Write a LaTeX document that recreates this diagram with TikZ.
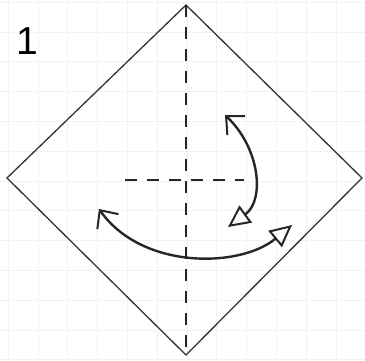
\documentclass[tikz,border=0pt]{standalone}
\usepackage{fontspec}
\setmainfont{Liberation Sans}
\usetikzlibrary{arrows.meta}
\tikzset{
    paper/.style = {draw=black!80, line width=1.3pt, line join=miter},
    fold/.style = {draw=black!85, line width=1.6pt, dash pattern=on 12pt off 10pt},
    turn/.style = {draw=black!85, line width=2.4pt, line cap=round,
                        {Straight Barb[length=14pt, width=26pt, line width=2pt]}-{Triangle[open, length=22pt, width=21pt, line width=2pt]}},
    gridline/.style = {draw=black!5, line width=0.6pt},
    stepnum/.style = {font=\fontsize{39}{39}\selectfont, inner sep=0pt}
}

\begin{document}
\begin{tikzpicture}[x=1pt, y=-1pt]
		\useasboundingbox (0,0) rectangle (365,360);
		\foreach \i in {0,...,12} {
			\draw [gridline] (8+29.8*\i,0) -- (8+29.8*\i,360);
			\draw [gridline] (0,2+29.8*\i) -- (365,2+29.8*\i);
		}
		\coordinate (top) at (186,5);
		\coordinate (left) at (7,178);
		\coordinate (bottom) at (186,355);
		\coordinate (right) at (362,178);
		\coordinate (midl) at (125,180);
		\coordinate (midr) at (244,180);
		\coordinate (upA) at (225,115);
		\coordinate (upB) at (228,227);
		\coordinate (lowA) at (99,209);
		\coordinate (lowB) at (292,225);
		\node (n) [stepnum] at (27,41) {1};
		\draw [paper] (top) -- (right) -- (bottom) -- (left) -- cycle;
		\draw [fold] (top) -- (bottom);
		\draw [fold] (midl) -- (midr);
		\draw [turn] (upA) .. controls (260,148) and (265,200) .. (upB);
		\draw [turn] (lowA) .. controls (142,270) and (240,268) .. (lowB);
	\end{tikzpicture}
\end{document}
